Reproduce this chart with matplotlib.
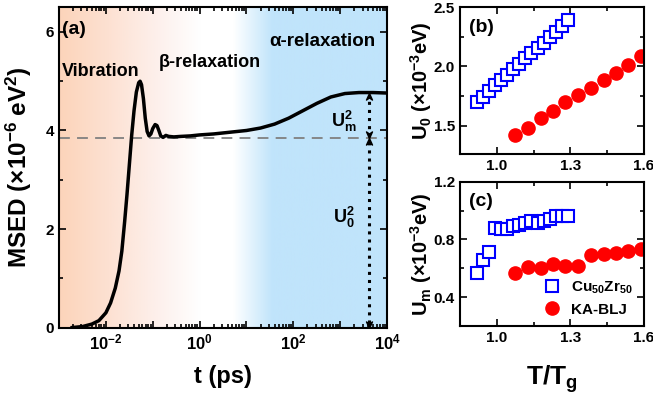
import numpy as np
import matplotlib
matplotlib.use('Agg')
import matplotlib.pyplot as plt
from matplotlib.ticker import LogLocator, FuncFormatter, MultipleLocator, NullFormatter, FixedLocator

plt.rcParams['font.family'] = ['Liberation Sans', 'DejaVu Sans']
plt.rcParams['font.weight'] = 'bold'
plt.rcParams['axes.labelweight'] = 'bold'
plt.rcParams['mathtext.fontset'] = 'custom'
plt.rcParams['mathtext.rm'] = 'Liberation Sans'
plt.rcParams['mathtext.bf'] = 'Liberation Sans:bold'
plt.rcParams['mathtext.it'] = 'Liberation Sans:bold'
plt.rcParams['mathtext.default'] = 'bf'

# (a) MSED curve: log10(t / ps) and MSED (1e-6 eV^2)
log_t = [-2.72, -2.50, -2.30, -2.15, -2.00, -1.90, -1.80, -1.72, -1.66, -1.60,
         -1.55, -1.50, -1.45, -1.40, -1.35, -1.30, -1.27, -1.24, -1.20, -1.16,
         -1.12, -1.08, -1.04, -1.00, -0.95, -0.91, -0.87, -0.83, -0.78, -0.72,
         -0.66, -0.55, -0.40, -0.20, 0.00, 0.30, 0.60, 1.00, 1.30, 1.60,
         1.90, 2.20, 2.50, 2.80, 3.10, 3.40, 3.70, 4.00]
msed = [0.00, 0.02, 0.07, 0.14, 0.30, 0.50, 0.80, 1.15, 1.55, 2.15,
        2.70, 3.30, 3.90, 4.40, 4.78, 4.97, 5.00, 4.93, 4.65, 4.25,
        3.98, 3.89, 3.93, 4.04, 4.12, 4.10, 4.00, 3.89, 3.86, 3.90,
        3.88, 3.87, 3.88, 3.89, 3.91, 3.93, 3.96, 4.00, 4.05, 4.13,
        4.25, 4.40, 4.55, 4.68, 4.75, 4.77, 4.77, 4.76]
u0_level = 3.85
plateau = 4.77
arrow_t = 4200

# (b), (c) data
tt_cu = [0.918, 0.943, 0.968, 0.992, 1.017, 1.042, 1.067, 1.092,
         1.116, 1.141, 1.166, 1.191, 1.215, 1.240, 1.265, 1.290]
u0_cu = [1.70, 1.745, 1.79, 1.84, 1.885, 1.93, 1.975, 2.025,
         2.07, 2.11, 2.16, 2.20, 2.245, 2.29, 2.34, 2.39]
um_cu = [0.57, 0.66, 0.71, 0.88, 0.87, 0.87, 0.89, 0.90,
         0.91, 0.93, 0.91, 0.93, 0.94, 0.96, 0.96, 0.96]
tt_ka = [1.075, 1.127, 1.180, 1.229, 1.280, 1.332, 1.383, 1.435, 1.487, 1.536, 1.589]
u0_ka = [1.424, 1.480, 1.565, 1.626, 1.697, 1.761, 1.817, 1.888, 1.949, 2.014, 2.090]
um_ka = [0.565, 0.610, 0.599, 0.627, 0.615, 0.615, 0.690, 0.697, 0.709, 0.722, 0.731]
tt_ticks = [1.0, 1.3, 1.6]

fig = plt.figure(figsize=(6.53, 3.98), dpi=100)
ax_a = fig.add_axes([0.0904, 0.177, 0.5024, 0.8046])
ax_b = fig.add_axes([0.7044, 0.613, 0.2818, 0.3686])
ax_c = fig.add_axes([0.7044, 0.181, 0.2818, 0.3626])


def style(ax):
    for s in ax.spines.values():
        s.set_linewidth(1.5)
    ax.tick_params(which='both', direction='in', top=True, right=True, width=1.2, labelsize=11)
    ax.tick_params(which='major', length=5)
    ax.tick_params(which='minor', length=3)


# background gradient for (a)
stops = [0.0, 0.15, 0.30, 0.43, 0.53, 0.65, 1.0]
cols = np.array([[252, 212, 186], [253, 225, 210], [253, 240, 236], [255, 255, 255],
                 [255, 255, 255], [192, 228, 251], [192, 228, 251]]) / 255
xs = np.linspace(0, 1, 400)
grad = np.stack([np.interp(xs, stops, cols[:, k]) for k in range(3)], axis=-1)[None, :, :]
ax_a.imshow(grad, extent=[0, 1, 0, 1], transform=ax_a.transAxes, aspect='auto', zorder=0)

t = 10 ** np.array(log_t)
ax_a.plot(t, msed, color='k', lw=2.5, zorder=3)
ax_a.axhline(u0_level, color='gray', ls=(0, (6, 4)), lw=1.3, zorder=2)
ax_a.plot([arrow_t, arrow_t], [0.1, plateau - 0.1], color='k', ls=':', lw=2.2, zorder=3)
up = [(0, 0), (-1, -2.2), (0, -1.5), (1, -2.2), (0, 0)]
down = [(x, -y) for x, y in up]
ax_a.scatter([arrow_t, arrow_t], [plateau, u0_level], marker=up, s=90, color='k', zorder=4)
ax_a.scatter([arrow_t, arrow_t], [u0_level, 0], marker=down, s=90, color='k', zorder=4)

ax_a.set_xscale('log')
ax_a.set_xlim(1e-3, 1e4)
ax_a.set_ylim(0, 6.5)
ax_a.xaxis.set_major_locator(LogLocator(base=10, numticks=20))
ax_a.xaxis.set_minor_locator(LogLocator(base=10, subs=np.arange(2, 10), numticks=20))
ax_a.xaxis.set_major_formatter(FuncFormatter(
    lambda v, p: r'$\mathrm{10^{%d}}$' % round(np.log10(v)) if round(np.log10(v)) % 2 == 0 else ''))
ax_a.xaxis.set_minor_formatter(NullFormatter())
ax_a.yaxis.set_major_locator(MultipleLocator(2))
ax_a.yaxis.set_minor_locator(MultipleLocator(1))
style(ax_a)
ax_a.tick_params(axis='x', labelsize=12)
ax_a.set_xlabel('t (ps)', fontsize=17, labelpad=9)
ax_a.set_ylabel(r'MSED (×10$^{-6}$ eV$^2$)', fontsize=17.5)
ax_a.yaxis.set_label_coords(-0.075, 0.5)

ax_a.text(1.15e-3, 6.05, '(a)', fontsize=14, ha='left', va='center')
ax_a.text(1.15e-3, 5.2, 'Vibration', fontsize=13, ha='left', va='center')
ax_a.text(0.137, 5.38, 'β-relaxation', fontsize=13, ha='left', va='center')
ax_a.text(30, 5.81, 'α-relaxation', fontsize=13.5, ha='left', va='center')
ax_a.text(1170, 4.18, r'U$_\mathrm{m}^2$', fontsize=13, ha='center', va='center')
ax_a.text(1170, 2.23, r'U$_0^2$', fontsize=13, ha='center', va='center')

# (b)
ax_b.plot(tt_cu, u0_cu, ls='none', marker='s', ms=8, mfc='white', mec='blue', mew=1.5)
ax_b.plot(tt_ka, u0_ka, ls='none', marker='o', ms=9.5, color='red')
ax_b.set_xlim(0.85, 1.6)
ax_b.set_ylim(1.26, 2.5)
ax_b.xaxis.set_major_locator(FixedLocator(tt_ticks))
ax_b.xaxis.set_minor_locator(FixedLocator([1.15, 1.45]))
ax_b.yaxis.set_major_locator(MultipleLocator(0.5))
ax_b.yaxis.set_minor_locator(MultipleLocator(0.25))
ax_b.xaxis.set_major_formatter(FuncFormatter(lambda v, p: '%.1f' % v))
ax_b.yaxis.set_major_formatter(FuncFormatter(lambda v, p: '%.1f' % v))
style(ax_b)
ax_b.set_ylabel(r'U$_0$ (×10$^{-3}$eV)', fontsize=14.5)
ax_b.yaxis.set_label_coords(-0.14, 0.5)
ax_b.text(0.05, 0.86, '(b)', transform=ax_b.transAxes, fontsize=14, ha='left', va='center')

# (c)
ax_c.plot(tt_cu, um_cu, ls='none', marker='s', ms=8, mfc='white', mec='blue', mew=1.5,
          label=r'Cu$_{50}$Zr$_{50}$')
ax_c.plot(tt_ka, um_ka, ls='none', marker='o', ms=9.5, color='red', label='KA-BLJ')
ax_c.set_xlim(0.85, 1.6)
ax_c.set_ylim(0.2, 1.2)
ax_c.xaxis.set_major_locator(FixedLocator(tt_ticks))
ax_c.xaxis.set_minor_locator(FixedLocator([1.15, 1.45]))
ax_c.yaxis.set_major_locator(MultipleLocator(0.4))
ax_c.yaxis.set_minor_locator(MultipleLocator(0.2))
ax_c.xaxis.set_major_formatter(FuncFormatter(lambda v, p: '%.1f' % v))
ax_c.yaxis.set_major_formatter(FuncFormatter(lambda v, p: '%.1f' % v))
style(ax_c)
ax_c.set_ylabel(r'U$_\mathrm{m}$ (×10$^{-3}$eV)', fontsize=14.5)
ax_c.yaxis.set_label_coords(-0.14, 0.5)
ax_c.set_xlabel(r'T/T$_\mathrm{g}$', fontsize=19, labelpad=13)
ax_c.text(0.05, 0.86, '(c)', transform=ax_c.transAxes, fontsize=14, ha='left', va='center')
ax_c.legend(loc='lower right', frameon=False, fontsize=11, handletextpad=0.3,
            borderaxespad=0.2, labelspacing=0.45, bbox_to_anchor=(0.99, 0.0))

fig.savefig('out.png', dpi=100)
